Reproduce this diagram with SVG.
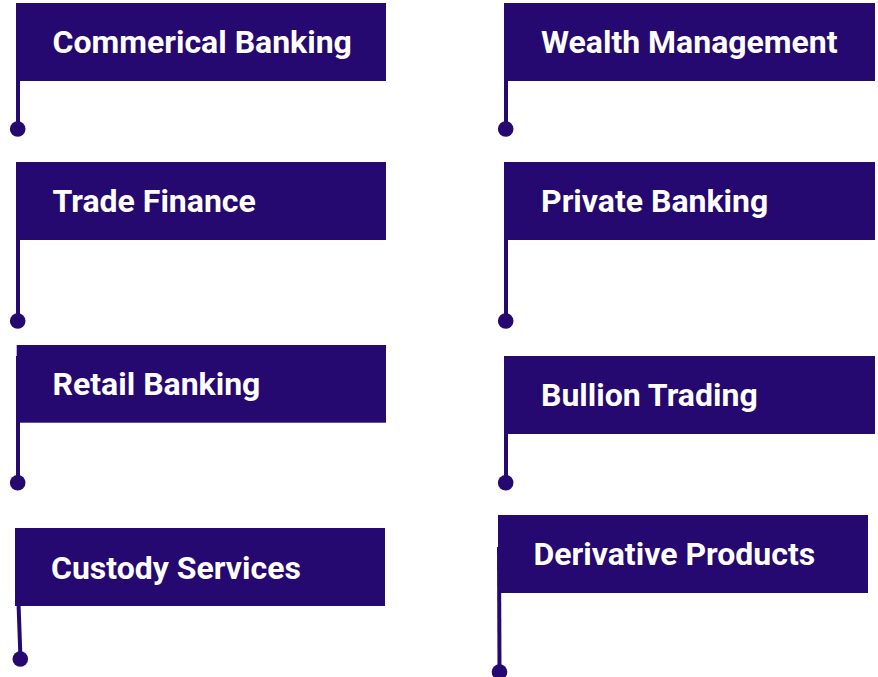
<svg xmlns="http://www.w3.org/2000/svg" width="878" height="677" viewBox="0 0 878 677">
<style>
.box{fill:#250870}
.lbl{font-family:Roboto,"Liberation Sans",sans-serif;font-weight:bold;font-size:32px;fill:#ffffff}
.pole{stroke:#250870;stroke-width:4;fill:none}
.dot{fill:#250870}
</style>
<rect width="878" height="677" fill="#ffffff"/>
<g id="connectors">
<line class="pole" x1="18" y1="78" x2="18" y2="129"/>
<line class="pole" x1="506" y1="78" x2="506" y2="129"/>
<line class="pole" x1="18" y1="237" x2="18" y2="321"/>
<line class="pole" x1="506" y1="237" x2="506" y2="321"/>
<line class="pole" x1="18" y1="356" x2="18" y2="482"/>
<line class="pole" x1="506" y1="431" x2="506" y2="482"/>
<line class="pole" x1="18.5" y1="603" x2="20.5" y2="659"/>
<line class="pole" x1="499" y1="547" x2="499.5" y2="672"/>
<circle class="dot" cx="17.7" cy="129" r="7.8"/>
<circle class="dot" cx="505.7" cy="129" r="7.8"/>
<circle class="dot" cx="17.7" cy="321" r="7.8"/>
<circle class="dot" cx="505.7" cy="321" r="7.8"/>
<circle class="dot" cx="17.7" cy="482.7" r="7.8"/>
<circle class="dot" cx="505.7" cy="482.7" r="7.8"/>
<circle class="dot" cx="20.3" cy="659" r="7.8"/>
<circle class="dot" cx="499.5" cy="672" r="7.8"/>
</g>
<g id="commercial-banking"><rect class="box" x="16" y="3" width="370" height="78"/><text class="lbl" x="52.5" y="53">Commerical Banking</text></g>
<g id="wealth-management"><rect class="box" x="504" y="3" width="371" height="78"/><text class="lbl" x="541" y="53">Wealth Management</text></g>
<g id="trade-finance"><rect class="box" x="16" y="162" width="370" height="78"/><text class="lbl" x="52.5" y="212">Trade Finance</text></g>
<g id="private-banking"><rect class="box" x="504" y="162" width="371" height="78"/><text class="lbl" x="541" y="212">Private Banking</text></g>
<g id="retail-banking"><rect class="box" x="16.7" y="345" width="369.3" height="77.7"/><text class="lbl" x="52.5" y="395">Retail Banking</text></g>
<g id="bullion-trading"><rect class="box" x="504" y="356" width="371" height="78"/><text class="lbl" x="541" y="406">Bullion Trading</text></g>
<g id="custody-services"><rect class="box" x="15" y="528" width="370" height="78"/><text class="lbl" x="51" y="579">Custody Services</text></g>
<g id="derivative-products"><rect class="box" x="498" y="515" width="370" height="78"/><text class="lbl" x="533.5" y="565">Derivative Products</text></g>
</svg>
